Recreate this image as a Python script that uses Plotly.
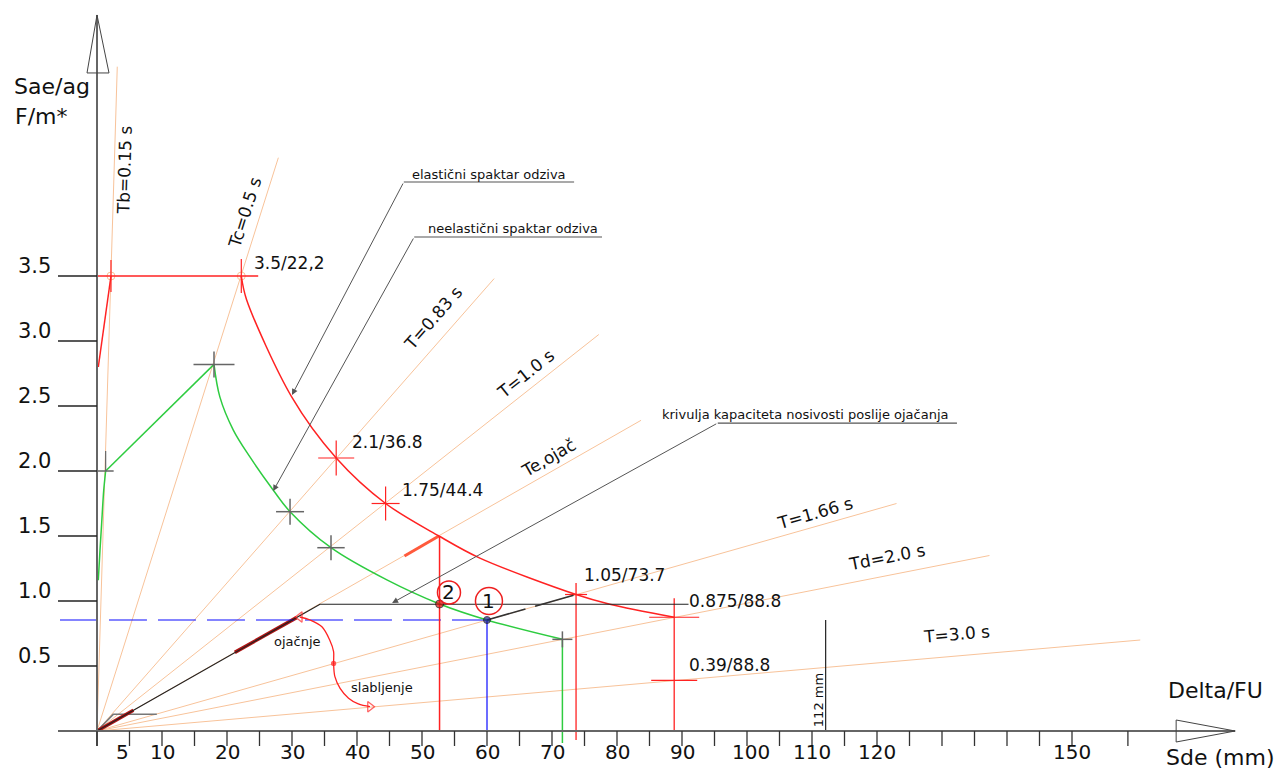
import math
import plotly.graph_objects as go

# ---------------- data (Sd in mm, Sa/ag) ----------------
# period lines drawn from the origin
period_names = ["Tb=0.15 s", "Tc=0.5 s", "T=0.83 s", "T=1.0 s", "Te,ojač",
                "T=1.66 s", "Td=2.0 s", "T=3.0 s"]
period_end_sd = [3.12, 27.9, 61.1, 77.2, 83.7, 123.0, 137.3, 160.5]
period_end_sa = [5.11, 4.41, 3.48, 3.05, 2.39, 1.75, 1.35, 0.70]
period_label_sd = [4.3, 22.8, 51.7, 65.9, 69.4, 110.5, 121.6, 132.3]
period_label_sa = [4.32, 3.99, 3.18, 2.75, 2.10, 1.68, 1.34, 0.75]

# elastic response spectrum
elastic_rise_sd = [0.2, 2.15]
elastic_rise_sa = [2.80, 3.5]
elastic_plateau_sd = [0.15, 24.8]
elastic_plateau_sa = [3.5, 3.5]
elastic_fall_sd = [22.2, 23.0, 29.95, 36.8, 44.4, 52.6, 58.9, 73.7, 78.9, 88.8]
elastic_fall_sa = [3.5, 3.32, 2.57, 2.1, 1.75, 1.5, 1.33, 1.05, 0.975, 0.875]

# inelastic response spectrum
inelastic_rise_sd = [0.2, 0.46, 0.72, 1.03, 1.33]
inelastic_rise_sa = [1.16, 1.39, 1.60, 1.85, 2.0]
inelastic_mid_sd = [1.33, 18.0]
inelastic_mid_sa = [2.0, 2.82]
inelastic_fall_sd = [18.0, 18.9, 20.97, 23.5, 27.1, 29.7, 36.0, 44.6, 52.7, 60.0, 71.6]
inelastic_fall_sa = [2.82, 2.57, 2.315, 2.11, 1.854, 1.687, 1.41, 1.162, 0.977, 0.854, 0.705]

# capacity curves
capacity_before_sd = [0, 2.5, 9.2]
capacity_before_sa = [0, 0.128, 0.128]
capacity_after_sd = [0, 34.3, 91.0]
capacity_after_sa = [0, 0.975, 0.975]

# performance points
point_names = ["1", "2"]
point_sd = [60.0, 52.7]
point_sa = [0.854, 0.977]

# labelled points of the elastic spectrum
value_labels = ["3.5/22,2", "2.1/36.8", "1.75/44.4", "1.05/73.7", "0.875/88.8", "0.39/88.8"]
value_sd = [22.2, 36.8, 44.4, 73.7, 88.8, 88.8]
value_sa = [3.5, 2.1, 1.75, 1.05, 0.875, 0.39]

# crosses on the inelastic spectrum
inel_cross_sd = [1.33, 18.0, 29.7, 36.0, 71.6]
inel_cross_sa = [2.0, 2.82, 1.687, 1.41, 0.705]

# strengthening / weakening arc
arc_sd = [31.2, 32.8, 34.6, 35.8, 36.4, 36.4, 36.6, 37.4, 38.7, 40.2, 42.0]
arc_sa = [0.877, 0.854, 0.802, 0.70, 0.61, 0.52, 0.418, 0.328, 0.252, 0.208, 0.187]

# segment highlights
te_highlight_sd = [47.3, 52.6]
te_highlight_sa = [1.346, 1.50]
cap_highlight_a_sd = [21.2, 30.7]
cap_highlight_a_sa = [0.605, 0.872]
cap_highlight_b_sd = [0.15, 5.6]
cap_highlight_b_sa = [0.004, 0.159]
shift_sd = [60.0, 73.7]
shift_sa = [0.854, 1.05]
marker_112_sd = 112.1
marker_112_sa = 0.854

# leader lines: (text, text Sd, text Sa, knee Sd, knee Sa, underline end Sd, tip Sd, tip Sa)
leaders = [
    ("elastični spaktar odziva", 48.15, 4.277, 47.2, 4.223, 73.4, 30.0, 2.585),
    ("neelastični spaktar odziva", 50.6, 3.862, 48.8, 3.80, 77.7, 27.1, 1.846),
    ("krivulja kapaciteta nosivosti poslije ojačanja", 86.6, 2.436, 95.5, 2.369, 132.3, 45.4, 0.985),
]

# axis ticks
x_ticks = [0, 5, 10, 15, 20, 25, 30, 35, 40, 45, 50, 55, 60, 65, 70, 75, 80, 85,
           90, 95, 100, 105, 110, 115, 120, 125, 130, 135, 140, 145, 150, 158.6]
x_tick_labels = ["5", "10", "20", "30", "40", "50", "60", "70", "80", "90",
                 "100", "110", "120", "150"]
x_tick_label_pos = [5, 10, 20, 30, 40, 50, 60, 70, 80, 90, 100, 110, 120, 150]
y_ticks = [0.5, 1.0, 1.5, 2.0, 2.5, 3.0, 3.5]
y_tick_labels = ["0.5", "1.0", "1.5", "2.0", "2.5", "3.0", "3.5"]
x_axis_end = 175.1
y_axis_end = 5.508

# ---------------- styles ----------------
W, H = 1279, 769
PX_X = 6.5     # pixels per mm
PX_Y = 130.0   # pixels per unit of Sa/ag
ORIGIN_PX = (97, 731)
FONT = "DejaVu Sans"
ORANGE = "#f8c39a"
RED = "#ff2222"
GREEN = "#2ecc40"
BLUE = "#0a0aff"
GREY = "#666666"
DARK = "#222222"

fig = go.Figure()


def dx(px):
    return px / PX_X


def dy(px):
    return px / PX_Y


def line(xs, ys, color, width, dash=None, shape="linear", smoothing=1.0):
    fig.add_trace(go.Scatter(
        x=xs, y=ys, mode="lines", hoverinfo="skip", showlegend=False,
        line=dict(color=color, width=width, dash=dash, shape=shape, smoothing=smoothing)))


def cross(xs, ys, h_arm, v_arm, color, width=1.5):
    for x, y, h, v in zip(xs, ys, h_arm, v_arm):
        if h:
            line([x - dx(h), x + dx(h)], [y, y], color, width)
        if v:
            line([x, x], [y - dy(v), y + dy(v)], color, width)


def text(t, x, y, size, angle=0, xanchor="center", color="#111", xshift=0, yshift=0):
    fig.add_annotation(x=x, y=y, text=t, showarrow=False, textangle=angle,
                       xanchor=xanchor, yanchor="middle", xshift=xshift, yshift=yshift,
                       font=dict(family=FONT, size=size, color=color))


# period lines and their labels
for name, sd, sa, lx, ly in zip(period_names, period_end_sd, period_end_sa,
                                period_label_sd, period_label_sa):
    line([0, sd], [0, sa], ORANGE, 1)
    ang = math.degrees(math.atan((sa / sd) * PX_Y / PX_X))
    text(name, lx, ly, 17, angle=-ang)

# orange node circles on the plateau
fig.add_trace(go.Scatter(x=[elastic_rise_sd[-1], elastic_fall_sd[0]],
                         y=[elastic_rise_sa[-1], elastic_fall_sa[0]], mode="markers",
                         marker=dict(symbol="circle-open", size=8, color=ORANGE,
                                     line=dict(width=1)),
                         hoverinfo="skip", showlegend=False))

# original capacity curve and highlighted parts of the strengthened one
line(capacity_before_sd, capacity_before_sa, "#777777", 1.5)
line(cap_highlight_a_sd, cap_highlight_a_sa, "#b01515", 3.5)
line(cap_highlight_b_sd, cap_highlight_b_sa, "#b01515", 3.5)
line(te_highlight_sd, te_highlight_sa, "#ff5a3c", 3)

# blue dashed level and drop line for point 1
line([-5.7, point_sd[0]], [point_sa[0], point_sa[0]], BLUE, 1.2, dash="38px,11px")
line([point_sd[0], point_sd[0]], [point_sa[0], 0], BLUE, 1.2)

# red drop line for point 2 (from the elastic curve)
line([point_sd[1], point_sd[1]], [te_highlight_sa[1], 0], RED, 1.5)

# elastic spectrum
line(elastic_rise_sd, elastic_rise_sa, RED, 1.5)
line(elastic_plateau_sd, elastic_plateau_sa, RED, 1.5)
line(elastic_fall_sd, elastic_fall_sa, RED, 1.5, shape="spline", smoothing=0.9)
line([value_sd[3], value_sd[3]], [value_sa[3] + dy(11.5), -dy(9)], RED, 1.3)
line([value_sd[4], value_sd[4]], [value_sa[4] + dy(19), 0], RED, 1.3)
cross([elastic_rise_sd[-1]] + value_sd, [elastic_rise_sa[-1]] + value_sa,
      [0, 0, 18, 14, 11, 25, 23], [16, 17, 17.5, 17, 0, 0, 0], RED, 1.2)

# inelastic spectrum
line(inelastic_rise_sd, inelastic_rise_sa, GREEN, 1.5, shape="spline", smoothing=0.8)
line(inelastic_mid_sd, inelastic_mid_sa, GREEN, 1.5)
line(inelastic_fall_sd, inelastic_fall_sa, GREEN, 1.5, shape="spline", smoothing=1.0)
line([inelastic_fall_sd[-1], inelastic_fall_sd[-1]], [inelastic_fall_sa[-1], -dy(12)], GREEN, 1.5)
cross(inel_cross_sd, inel_cross_sa, [8, 20.5, 14, 13.7, 10], [0, 13, 13, 12.5, 8], GREY, 1.5)
line([inel_cross_sd[0], inel_cross_sd[0]], [inel_cross_sa[0], inel_cross_sa[0] + dy(20)], GREY, 1.2)

# strengthened capacity curve
line(capacity_after_sd, capacity_after_sa, DARK, 1.2)
line(shift_sd, shift_sa, "#333333", 1.5, dash="40px,10px")

# 112 mm marker
line([marker_112_sd, marker_112_sd], [0, marker_112_sa], DARK, 1.2)
text("112 mm", marker_112_sd - dx(7.5), dy(31), 13, angle=-90)

# strengthening / weakening arc
line(arc_sd, arc_sa, RED, 1.3, shape="spline", smoothing=1.0)
fig.add_trace(go.Scatter(x=[arc_sd[0], arc_sd[5], arc_sd[-1]], y=[arc_sa[0], arc_sa[5], arc_sa[-1]],
                         mode="markers", hoverinfo="skip", showlegend=False,
                         marker=dict(symbol=["triangle-left-open", "circle", "triangle-right-open"],
                                     size=[9, 4, 9], color=RED, line=dict(width=1.3, color=RED))))
text("ojačnje", 30.85, 0.687, 13)
text("slabljenje", 43.77, 0.336, 13)

# performance points with circled labels
fig.add_trace(go.Scatter(x=point_sd, y=point_sa, mode="markers", hoverinfo="skip",
                         showlegend=False,
                         marker=dict(size=[7, 8], color=["#1a1a8c", "#e01010"],
                                     line=dict(width=1, color="#111"))))
circle_offsets = [(0.3, 19), (1.45, 11.5)]
circle_sizes = [27, 23]
for name, sd, sa, (ox, oy), cs in zip(point_names, point_sd, point_sa, circle_offsets, circle_sizes):
    cx, cy = sd + ox, sa + dy(oy)
    fig.add_trace(go.Scatter(x=[cx], y=[cy], mode="markers", hoverinfo="skip", showlegend=False,
                             marker=dict(symbol="circle-open", size=cs, color="#ee2020",
                                         line=dict(width=1.5))))
    text(name, cx, cy, 20)

# value labels
for t, sd, sa, (ox, oy) in zip(value_labels, value_sd, value_sa,
                               [(11, 13), (14, 16.5), (14, 13.5), (6, 19.5), (12.5, 16.5), (12.5, 15.5)]):
    text(t, sd, sa, 17, xanchor="left", xshift=ox, yshift=oy)

# leader lines with their captions
for t, tx, ty, kx, ky, ex, px, py in leaders:
    line([kx, ex], [ky, ky], "#555555", 1.2)
    fig.add_annotation(x=px, y=py, ax=kx, ay=ky, xref="x", yref="y", axref="x", ayref="y",
                       text="", showarrow=True, arrowhead=2, arrowsize=1.2, arrowwidth=1,
                       arrowcolor="#555555")
    text(t, tx, ty, 13, xanchor="left")

# ---------------- axes drawn as lines ----------------
line([0, 0], [-dy(15), y_axis_end], GREY, 2)
line([-dx(39), x_axis_end], [0, 0], GREY, 2)
# open arrow heads
line([-dx(10), 0, dx(12), -dx(10)],
     [y_axis_end - dy(58), y_axis_end, y_axis_end - dy(58), y_axis_end - dy(58)],
     "#444444", 1)
line([x_axis_end - dx(59), x_axis_end, x_axis_end - dx(59), x_axis_end - dx(59)],
     [dy(11), 0, -dy(11), dy(11)], "#444444", 1)

# ticks
tx_, ty_ = [], []
for v in x_ticks:
    tx_ += [v, v, None]
    ty_ += [0, -dy(15), None]
line(tx_, ty_, "#333333", 1.3)
tx_, ty_ = [], []
for v in y_ticks:
    tx_ += [-dx(39), 0, None]
    ty_ += [v, v, None]
line(tx_, ty_, "#222222", 1.3)

for lab, v in zip(x_tick_labels, x_tick_label_pos):
    text(lab, v, 0, 20, xshift=-7 if lab == "5" else (4 if lab == "100" else 0), yshift=-21)
for lab, v in zip(y_tick_labels, y_ticks):
    text(lab, -dx(44), v, 21, xanchor="right", yshift=10)

# axis titles
text("Sae/ag", -13.12, 4.96, 22, xanchor="left")
text("F/m*", -12.87, 4.725, 22, xanchor="left")
text("Delta/FU", 164.4, 0.315, 22, xanchor="left")
text("Sde (mm)", 164.2, -0.205, 22, xanchor="left")

fig.update_layout(
    width=W, height=H, margin=dict(l=0, r=0, t=0, b=0),
    paper_bgcolor="white", plot_bgcolor="white", showlegend=False,
    xaxis=dict(range=[-ORIGIN_PX[0] / PX_X, (W - ORIGIN_PX[0]) / PX_X], visible=False,
               fixedrange=True),
    yaxis=dict(range=[(ORIGIN_PX[1] - H) / PX_Y, ORIGIN_PX[1] / PX_Y], visible=False,
               fixedrange=True),
)

fig.write_html("out.html", config={"displayModeBar": False})
